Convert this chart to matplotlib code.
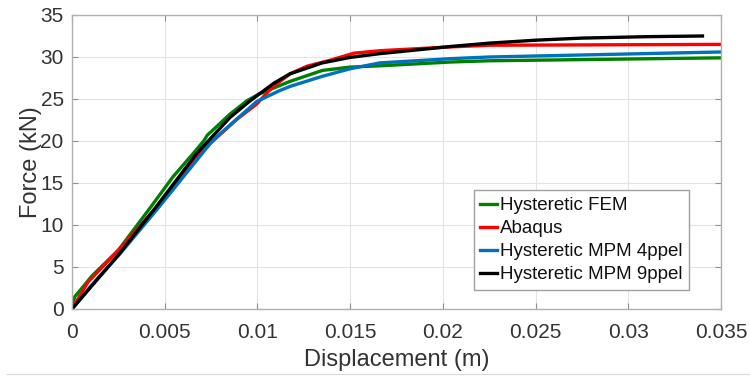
import matplotlib
matplotlib.use("Agg")
import matplotlib.pyplot as plt
from matplotlib.lines import Line2D

plt.rcParams['font.family'] = ['Liberation Sans', 'DejaVu Sans']

# Data
fem_x = [0, 0.00016, 0.00043, 0.00106, 0.0025, 0.0042, 0.00545, 0.00653, 0.0071, 0.0073,
         0.0075, 0.00852, 0.00944, 0.0101, 0.01176, 0.0135, 0.015, 0.0166, 0.0204, 0.0225, 0.035]
fem_y = [0.5, 1.5, 2.2, 3.9, 7.0, 12.0, 15.75, 18.5, 20.0, 20.7,
         21.1, 23.2, 24.8, 25.6, 27.1, 28.4, 28.8, 28.95, 29.4, 29.55, 29.9]

abaqus_x = [0, 0.00086, 0.0025, 0.0046, 0.0067, 0.0078, 0.0089, 0.00996, 0.0108, 0.01176,
            0.01267, 0.0139, 0.0152, 0.0166, 0.0204, 0.0225, 0.035]
abaqus_y = [0, 3.2, 7.0, 12.2, 18.2, 20.4, 22.6, 24.4, 26.4, 28.0,
            28.9, 29.6, 30.45, 30.75, 31.2, 31.4, 31.5]

mpm4_x = [0, 0.001, 0.0026, 0.00464, 0.0076, 0.00996, 0.0112, 0.01176, 0.0135, 0.015,
          0.0166, 0.0204, 0.0225, 0.035]
mpm4_y = [0, 2.7, 6.6, 12.0, 20.1, 24.7, 26.0, 26.5, 27.7, 28.6,
          29.3, 29.8, 30.0, 30.6]

mpm9_x = [0, 0.0026, 0.00448, 0.00672, 0.00852, 0.0095, 0.0101, 0.0109, 0.01176, 0.0135,
          0.015, 0.0166, 0.0193, 0.0204, 0.0225, 0.025, 0.0275, 0.031, 0.034]
mpm9_y = [0, 6.7, 12.0, 18.5, 22.8, 24.6, 25.6, 26.9, 28.0, 29.3,
          29.95, 30.4, 31.0, 31.25, 31.65, 32.0, 32.25, 32.42, 32.5]

labels = ["Hysteretic FEM", "Abaqus", "Hysteretic MPM 4ppel", "Hysteretic MPM 9ppel"]
colors = ["#008000", "#ff0000", "#0072bd", "#000000"]

xticks = [0, 0.005, 0.01, 0.015, 0.02, 0.025, 0.03, 0.035]
xticklabels = ["0", "0.005", "0.01", "0.015", "0.02", "0.025", "0.03", "0.035"]
yticks = [0, 5, 10, 15, 20, 25, 30, 35]

text_color = "#333333"
fig = plt.figure(figsize=(7.5, 3.78), dpi=100)
ax = fig.add_axes([72/750, 69/378, 649/750, 294/378])

series = [(fem_x, fem_y), (abaqus_x, abaqus_y), (mpm4_x, mpm4_y), (mpm9_x, mpm9_y)]
for (xs, ys), lab, col in zip(series, labels, colors):
    ax.plot(xs, ys, color=col, lw=2.4, label=lab, solid_joinstyle='round')

ax.set_xlim(0, 0.035)
ax.set_ylim(0, 35)
ax.set_xticks(xticks)
ax.set_xticklabels(xticklabels)
ax.set_yticks(yticks)
ax.grid(True, color="#e3e3e3", lw=0.8)
ax.set_axisbelow(True)
for s in ax.spines.values():
    s.set_color("#b0b0b0")
    s.set_linewidth(1.0)
ax.tick_params(direction='in', top=True, right=True, length=4, color="#909090",
               labelsize=15, labelcolor=text_color)
ax.tick_params(axis='x', pad=10)
ax.tick_params(axis='y', pad=6)
ax.set_xlabel("Displacement (m)", fontsize=17, color=text_color, labelpad=5)
ax.set_ylabel("Force (kN)", fontsize=17, color=text_color, labelpad=-1)

leg = ax.legend(loc='lower right', bbox_to_anchor=(0.951, 0.0646), fontsize=13.5,
                handlelength=0.9, handletextpad=0.15, labelspacing=0.32,
                borderpad=0.35, borderaxespad=0, fancybox=False, framealpha=1,
                edgecolor="#a0a0a0")
for t in leg.get_texts():
    t.set_color("#111111")
leg.get_frame().set_linewidth(1.0)

fig.add_artist(Line2D([7/750, 1.0], [1 - 374/378, 1 - 374/378], color="#d8d8d8", lw=0.8))

fig.savefig("out.png", dpi=100)
